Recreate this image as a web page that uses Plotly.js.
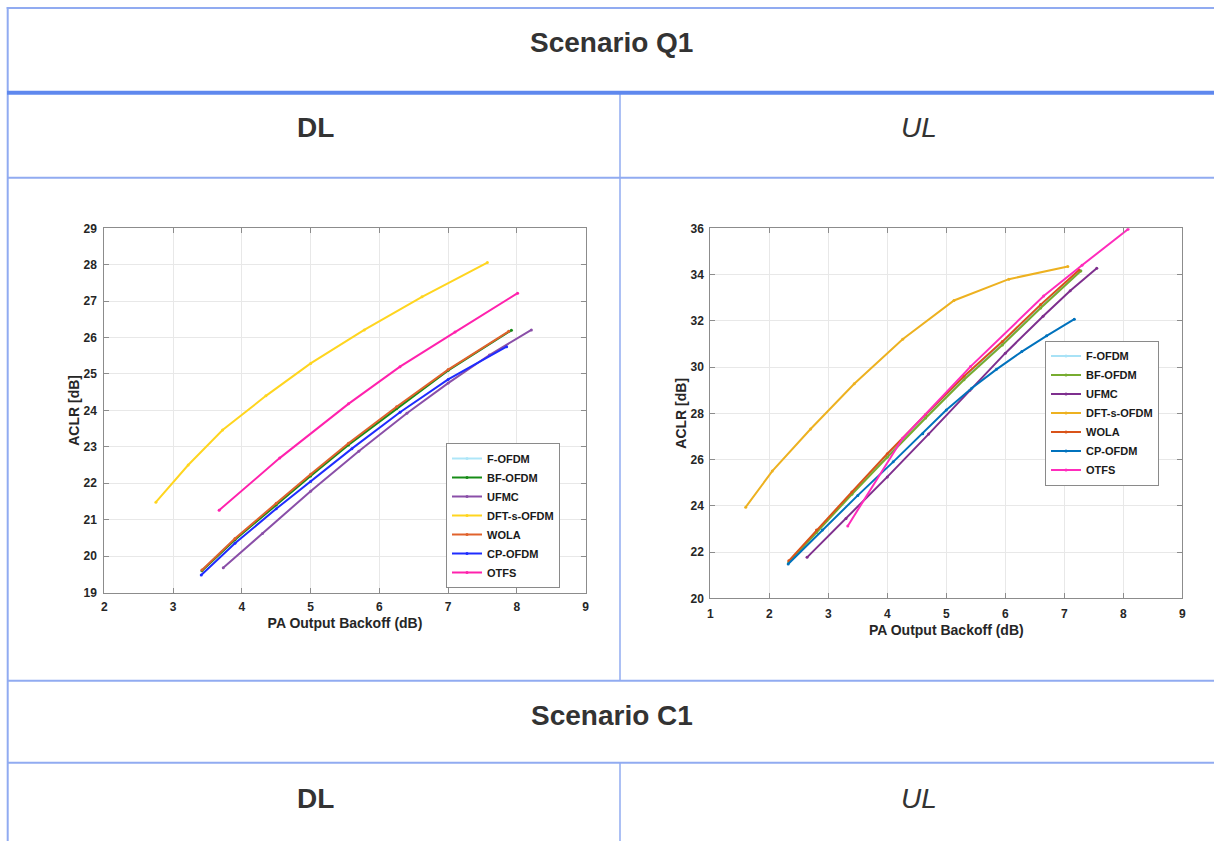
<!DOCTYPE html>
<html>
<head>
<meta charset="utf-8">
<script src="https://cdn.plot.ly/plotly-3.0.1.min.js"></script>
<style>
  html, body { margin: 0; padding: 0; background: #ffffff; }
  #chart { width: 1214px; height: 841px; }
</style>
</head>
<body>
<div id="chart"></div>
<script>
// ---------------- DATA ----------------
const seriesNames = ['F-OFDM', 'BF-OFDM', 'UFMC', 'DFT-s-OFDM', 'WOLA', 'CP-OFDM', 'OTFS'];

// Scenario Q1 – DL (PA Output Backoff [dB] vs ACLR [dB])
const dlFofdmX = [3.42, 3.9, 4.5, 5.0, 5.55, 6.25, 7.0, 7.9];
const dlFofdmY = [19.6, 20.46, 21.42, 22.22, 23.07, 24.07, 25.1, 26.18];
const dlBfofdmX = [3.42, 3.9, 4.5, 5.0, 5.55, 6.25, 7.0, 7.92];
const dlBfofdmY = [19.6, 20.45, 21.4, 22.2, 23.05, 24.05, 25.1, 26.2];
const dlUfmcX = [3.73, 4.3, 5.0, 5.7, 6.4, 7.0, 7.6, 8.21];
const dlUfmcY = [19.68, 20.62, 21.78, 22.88, 23.92, 24.75, 25.52, 26.21];
const dlDftsX = [2.75, 3.22, 3.72, 4.35, 5.0, 5.78, 6.62, 7.57];
const dlDftsY = [21.48, 22.5, 23.46, 24.4, 25.29, 26.21, 27.12, 28.06];
const dlWolaX = [3.42, 3.9, 4.5, 5.0, 5.55, 6.25, 7.0, 7.88];
const dlWolaY = [19.62, 20.48, 21.45, 22.25, 23.1, 24.1, 25.12, 26.17];
const dlCpofdmX = [3.41, 3.9, 4.5, 5.0, 5.6, 6.3, 7.0, 7.85];
const dlCpofdmY = [19.48, 20.35, 21.3, 22.05, 22.95, 23.95, 24.85, 25.75];
const dlOtfsX = [3.67, 4.55, 5.55, 6.3, 7.1, 8.01];
const dlOtfsY = [21.26, 22.69, 24.18, 25.2, 26.15, 27.22];

// Scenario Q1 – UL
const ulFofdmX = [2.33, 2.8, 3.4, 4.0, 4.65, 5.3, 5.95, 6.6, 7.28];
const ulFofdmY = [21.58, 22.9, 24.55, 26.18, 27.88, 29.52, 31.02, 32.62, 34.18];
const ulBfofdmX = [2.33, 2.8, 3.4, 4.0, 4.65, 5.3, 5.95, 6.6, 7.28];
const ulBfofdmY = [21.55, 22.85, 24.5, 26.1, 27.8, 29.45, 30.95, 32.55, 34.15];
const ulUfmcX = [2.64, 3.3, 4.0, 4.7, 5.4, 6.0, 6.64, 7.1, 7.55];
const ulUfmcY = [21.77, 23.45, 25.25, 27.1, 29.0, 30.6, 32.2, 33.3, 34.27];
const ulDftsX = [1.6, 2.05, 2.7, 3.44, 4.26, 5.13, 6.06, 7.06];
const ulDftsY = [23.94, 25.5, 27.32, 29.28, 31.2, 32.88, 33.8, 34.35];
const ulWolaX = [2.33, 2.8, 3.4, 4.0, 4.65, 5.3, 5.95, 6.6, 7.25];
const ulWolaY = [21.62, 22.95, 24.6, 26.25, 27.95, 29.6, 31.1, 32.7, 34.2];
const ulCpofdmX = [2.32, 2.9, 3.5, 4.1, 4.6, 5.0, 5.43, 5.85, 6.28, 6.7, 7.17];
const ulCpofdmY = [21.48, 22.95, 24.45, 25.9, 27.12, 28.14, 29.08, 29.9, 30.67, 31.35, 32.07];
const ulOtfsX = [3.33, 4.26, 5.41, 6.65, 7.3, 8.08];
const ulOtfsY = [23.13, 26.92, 30.02, 33.07, 34.4, 35.96];

// Colours
const dlColors = ['#aee6f8', '#178c17', '#8a4fa8', '#ffd51f', '#e0622c', '#1f2cff', '#ff22ad'];
const ulColors = ['#a8e2f6', '#77ac30', '#7e2f8e', '#edb120', '#d95319', '#0072bd', '#ff2cbc'];

// Text
const headerTexts = ['Scenario Q1', 'DL', 'UL', 'Scenario C1', 'DL', 'UL'];
const xTitle = 'PA Output Backoff (dB)';
const yTitle = 'ACLR [dB]';

// ---------------- BUILD ----------------
const W = 1214, H = 841;
const px = v => v / W;
const py = v => 1 - v / H;
const FONT = 'Liberation Sans, Arial, Helvetica, sans-serif';

const dlXs = [dlFofdmX, dlBfofdmX, dlUfmcX, dlDftsX, dlWolaX, dlCpofdmX, dlOtfsX];
const dlYs = [dlFofdmY, dlBfofdmY, dlUfmcY, dlDftsY, dlWolaY, dlCpofdmY, dlOtfsY];
const ulXs = [ulFofdmX, ulBfofdmX, ulUfmcX, ulDftsX, ulWolaX, ulCpofdmX, ulOtfsX];
const ulYs = [ulFofdmY, ulBfofdmY, ulUfmcY, ulDftsY, ulWolaY, ulCpofdmY, ulOtfsY];

const traces = [];
seriesNames.forEach((n, i) => {
  traces.push({
    type: 'scatter', mode: 'lines+markers', name: n,
    x: dlXs[i], y: dlYs[i], xaxis: 'x', yaxis: 'y', legend: 'legend',
    line: { color: dlColors[i], width: 2 },
    marker: { color: dlColors[i], size: 3 }
  });
});
seriesNames.forEach((n, i) => {
  traces.push({
    type: 'scatter', mode: 'lines+markers', name: n,
    x: ulXs[i], y: ulYs[i], xaxis: 'x2', yaxis: 'y2', legend: 'legend2',
    line: { color: ulColors[i], width: 2 },
    marker: { color: ulColors[i], size: 3 }
  });
});

const titleFont = { family: FONT, size: 14, weight: 'bold', color: '#262626' };

function axisBase(extra) {
  return Object.assign({
    showline: true, linecolor: '#8c8c8c', linewidth: 1, mirror: 'ticks',
    ticks: 'inside', ticklen: 5, tickcolor: '#8c8c8c', tickwidth: 1,
    showgrid: true, gridcolor: '#e8e8e8', gridwidth: 1, zeroline: false,
    tickfont: { family: FONT, size: 12, weight: 'bold', color: '#262626' },
    dtick: 1, fixedrange: true
  }, extra);
}

const layout = {
  width: W, height: H,
  margin: { l: 0, r: 0, t: 0, b: 0 },
  paper_bgcolor: '#ffffff', plot_bgcolor: '#ffffff',
  font: { family: FONT, color: '#262626' },
  showlegend: true,
  xaxis: axisBase({
    domain: [px(104.3), px(585.7)], range: [2, 9], anchor: 'y',
    ticklabelstandoff: 3,
    title: { text: xTitle, standoff: 5, font: titleFont }
  }),
  yaxis: axisBase({
    domain: [py(592.5), py(228.3)], range: [19, 29], anchor: 'x',
    ticklabelstandoff: 4,
    title: { text: yTitle, standoff: 0, font: titleFont }
  }),
  xaxis2: axisBase({
    domain: [px(710.3), px(1182.3)], range: [1, 9], anchor: 'y2',
    ticklabelstandoff: 4,
    title: { text: xTitle, standoff: 5, font: titleFont }
  }),
  yaxis2: axisBase({
    domain: [py(598.3), py(228.3)], range: [20, 36], dtick: 2, anchor: 'x2',
    ticklabelstandoff: 3,
    title: { text: yTitle, standoff: 0, font: titleFont }
  }),
  legend: {
    x: px(446), xanchor: 'left', y: py(588), yanchor: 'bottom',
    bgcolor: '#ffffff', bordercolor: '#8a8a8a', borderwidth: 1,
    font: { family: FONT, size: 11, weight: 'bold', color: '#1a1a1a' },
    itemwidth: 30, tracegroupgap: 0, traceorder: 'normal'
  },
  legend2: {
    x: px(1045), xanchor: 'left', y: py(413), yanchor: 'middle',
    bgcolor: '#ffffff', bordercolor: '#8a8a8a', borderwidth: 1,
    font: { family: FONT, size: 11, weight: 'bold', color: '#1a1a1a' },
    itemwidth: 30, tracegroupgap: 0, traceorder: 'normal'
  },
  shapes: [],
  annotations: []
};

const LIGHT = '#91abf1', THICK = '#5f88ee';
function hline(y, x0, x1, w, c) {
  layout.shapes.push({ type: 'line', xref: 'paper', yref: 'paper',
    x0: px(x0), x1: px(x1), y0: py(y), y1: py(y), line: { color: c, width: w } });
}
function vline(x, y0, y1, w, c) {
  layout.shapes.push({ type: 'line', xref: 'paper', yref: 'paper',
    x0: px(x), x1: px(x), y0: py(y0), y1: py(y1), line: { color: c, width: w } });
}
hline(8, 6.7, W, 2, LIGHT);
vline(7.7, 7, H, 2, LIGHT);
hline(177.7, 7, W, 2, LIGHT);
hline(680.8, 7, W, 2, LIGHT);
hline(762.8, 7, W, 2, LIGHT);
vline(620, 94, 681, 1.5, LIGHT);
vline(620, 763, H, 1.5, LIGHT);
hline(92.8, 7, W, 4, THICK);

const headerPos = [[611.5, 42.5], [315, 127.8], [919, 127.8], [611.5, 715.5], [315, 798], [919, 798]];
const headerStyle = ['bold', 'bold', 'italic', 'bold', 'bold', 'italic'];
headerTexts.forEach((t, i) => {
  const it = headerStyle[i] === 'italic';
  layout.annotations.push({
    xref: 'paper', yref: 'paper', x: px(headerPos[i][0]), y: py(headerPos[i][1]),
    xanchor: 'center', yanchor: 'middle', showarrow: false, text: t,
    font: { family: FONT, size: 28, color: '#333333', weight: it ? 'normal' : 'bold', style: it ? 'italic' : 'normal' }
  });
});

Plotly.newPlot('chart', traces, layout, { displayModeBar: false, staticPlot: true });
</script>
</body>
</html>
